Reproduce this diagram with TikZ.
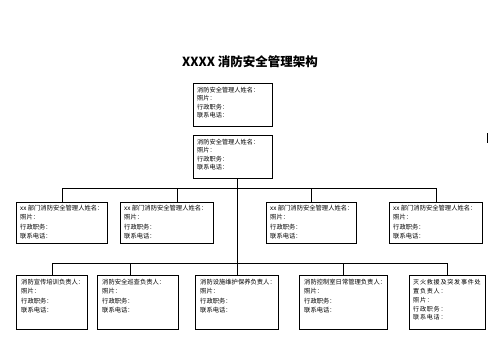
\documentclass[tikz,border=0pt]{standalone}
\usepackage{fontspec}
\setmainfont{Noto Sans CJK SC}
\usetikzlibrary{calc,positioning}
\tikzset{
  frame/.style={draw, line width=0.8pt, anchor=north west, inner sep=0pt},
  info/.style={anchor=north west, inner sep=0pt, align=left, font=\fontsize{6.2}{8.3}\selectfont},
  wide/.style={info, font=\fontsize{6.3}{9.4}\selectfont},
  link/.style={line width=0.8pt},
}

\begin{document}
\begin{tikzpicture}[x=1pt,y=-1pt]
\useasboundingbox (0,0) rectangle (503,356);
\node[font=\fontsize{12.5}{13}\bfseries\selectfont] (title) at (250,62) {XXXX 消防安全管理架构};

\node[frame, minimum width=79pt, minimum height=43pt] (chief) at (193,83) {};
\node[info] (chiefT) at ([shift={(4,4)}]chief.north west) {消防安全管理人姓名：\\照片：\\行政职务：\\联系电话：};
\node[frame, minimum width=79pt, minimum height=43pt] (boss) at (193,135) {};
\node[info] (bossT) at ([shift={(4,4)}]boss.north west) {消防安全管理人姓名：\\照片：\\行政职务：\\联系电话：};

\foreach \n/\x/\w in {A/16/91, B/120/93, C/266/90, D/389/93} {
  \node[frame, minimum width=\w pt, minimum height=41pt] (dept\n) at (\x,202) {};
  \node[wide] (dept\n T) at ([shift={(4,3)}]dept\n.north west) {xx 部门消防安全管理人姓名：\\照片：\\行政职务：\\联系电话：};
}

\foreach \n/\x/\w/\role in {1/16/71/消防宣传培训负责人：, 2/97/81/消防安全巡查负责人：, 3/195/83/消防设施维护保养负责人：, 4/299/88/消防控制室日常管理负责人：} {
  \node[frame, minimum width=\w pt, minimum height=54pt] (staff\n) at (\x,275) {};
  \node[wide] (staff\n T) at ([shift={(5,4)}]staff\n.north west) {\role\\照片：\\行政职务：\\联系电话：};
}
\node[frame, minimum width=76pt, minimum height=54pt] (staff5) at (409,275) {};
\node[wide, font=\fontsize{6.1}{8.9}\selectfont\addfontfeature{LetterSpace=12}] (staff5T) at ([shift={(4,4)}]staff5.north west) {灭火救援及突发事件处\\置负责人：\\照片：\\行政职务：\\联系电话：};

\coordinate (bus1) at (0,188);
\coordinate (bus2) at (0,263);
\path (deptB.north) ++(10.5,0) coordinate (dropB);
\path (staff2.north) ++(-7.5,0) coordinate (dropS);

\draw[link] (boss.south -| staff3.north) -- (staff3.north);
\draw[link] (deptA.north) -- (deptA.north |- bus1) -- (deptD.north |- bus1) -- (deptD.north);
\draw[link] (dropB) -- (dropB |- bus1);
\draw[link] (deptC.north) -- (deptC.north |- bus1);
\draw[link] (staff1.north) -- (staff1.north |- bus2) -- (staff5.north |- bus2) -- (staff5.north);
\draw[link] (dropS) -- (dropS |- bus2);
\draw[link] (staff4.north) -- (staff4.north |- bus2);

\draw[link] (487,133) -- (487,143);
\end{tikzpicture}
\end{document}
